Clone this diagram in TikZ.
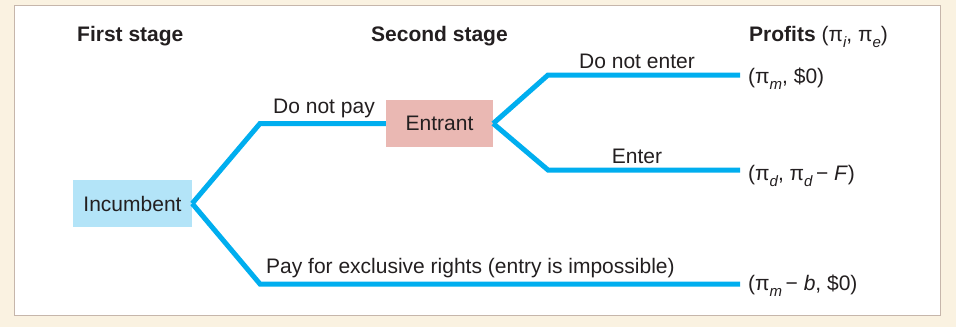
\documentclass[tikz,border=0pt]{standalone}
\usepackage{fontspec}
\setmainfont{Liberation Sans}
\definecolor{cream}{HTML}{FAF2E1}
\definecolor{frame}{HTML}{C6B6AB}
\definecolor{branchblue}{HTML}{00AEEF}
\definecolor{incfill}{HTML}{B3E4F8}
\definecolor{entfill}{HTML}{EAB8B3}
\definecolor{ink}{HTML}{231F20}
\newcommand{\sbs}[1]{\raisebox{-0.32em}{\fontsize{15}{15}\selectfont\itshape #1}}
\begin{document}
\begin{tikzpicture}[x=1pt,y=-1pt,
  every node/.style={text=ink,font=\fontsize{21}{25}\selectfont},
  player/.style={minimum height=47pt,inner sep=0pt},
  branch/.style={draw=branchblue,line width=5pt,line join=miter},
  heading/.style={anchor=base west,inner sep=0pt,font=\fontsize{21}{25}\selectfont\bfseries},
  payoff/.style={anchor=base west,inner sep=0pt},
  movelabel/.style={anchor=base}]
  % background and panel
  \useasboundingbox (0,0) rectangle (956,327);
  \fill[cream] (0,0) rectangle (956,327);
  \filldraw[fill=white,draw=frame,line width=1.6pt] (14.5,5.5) rectangle (940.5,315.5);

  % stage headings
  \node[heading] (h1) at (77,41) {First stage};
  \node[heading] (h2) at (371,41) {Second stage};
  \node[heading] (h3) at (749,41) {Profits \mdseries(π\sbs{i}, π\sbs{e})};

  % decision nodes
  \node[player,fill=incfill,minimum width=119pt] (inc) at (132.5,203.5) {Incumbent};
  \node[player,fill=entfill,minimum width=107pt] (ent) at (439.5,123.5) {Entrant};

  % branch corners and end points
  \coordinate (c1) at (260,123.5);
  \coordinate (c2) at (260,284);
  \coordinate (c3) at (548,75);
  \coordinate (c4) at (548,170);
  \coordinate (e1) at (740,75);
  \coordinate (e2) at (740,170);
  \coordinate (e3) at (740,284);

  % branches
  \draw[branch] (inc.east) -- (c1) -- (ent.west);
  \draw[branch] (inc.east) -- (c2) -- (e3);
  \draw[branch] (ent.east) -- (c3) -- (e1);
  \draw[branch] (ent.east) -- (c4) -- (e2);

  % move labels
  \node[movelabel] (l1) at (324,113) {Do not pay};
  \node[movelabel] (l2) at (637,68) {Do not enter};
  \node[movelabel] (l3) at (637,163) {Enter};
  \node[anchor=base west,inner sep=0pt] (l4) at (266,273) {Pay for exclusive rights (entry is impossible)};

  % payoffs
  \node[payoff] (p1) at (748,83) {(π\sbs{m}, \$0)};
  \node[payoff] (p2) at (748,180) {(π\sbs{d}, π\sbs{d}\,− \textit{F})};
  \node[payoff] (p3) at (748,290) {(π\sbs{m}\,− \textit{b}, \$0)};
\end{tikzpicture}
\end{document}
